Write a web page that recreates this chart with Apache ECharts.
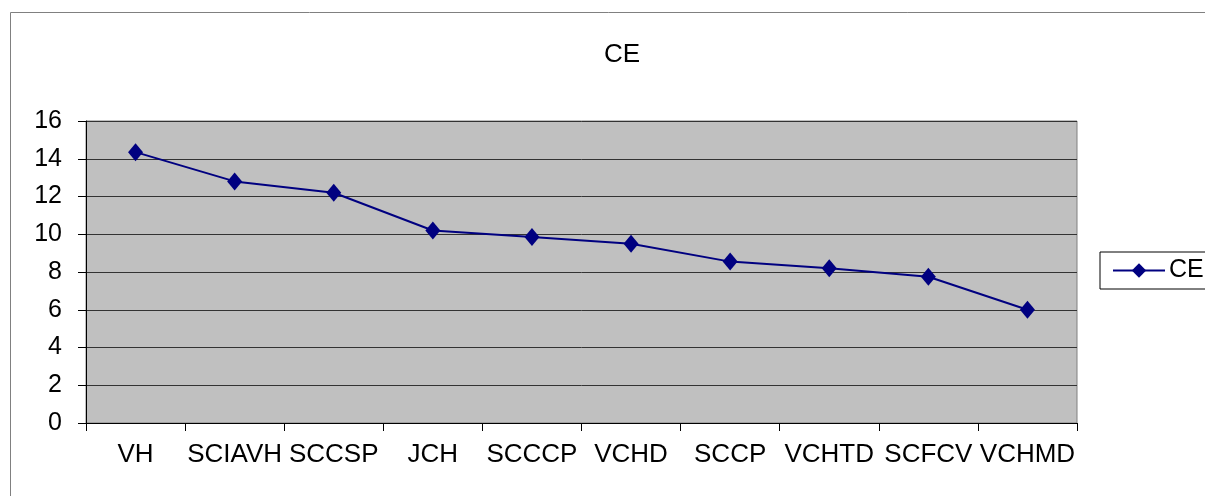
<!DOCTYPE html>
<html><head><meta charset="utf-8">
<script src="https://cdn.jsdelivr.net/npm/echarts@6/dist/echarts.min.js"></script>
<style>html,body{margin:0;padding:0;background:#fff}#c{width:1205px;height:496px}</style>
</head><body><div id="c"></div>
<script>
const categories = ['VH','SCIAVH','SCCSP','JCH','SCCCP','VCHD','SCCP','VCHTD','SCFCV','VCHMD'];
const ceValues = [14.35, 12.8, 12.2, 10.2, 9.85, 9.5, 8.55, 8.2, 7.75, 6.0];
const yTicks = [0,2,4,6,8,10,12,14,16];

const chart = echarts.init(document.getElementById('c'));
const font = 'Liberation Sans, Arial, sans-serif';
chart.setOption({
  animation: false,
  title: { text: 'CE', left: 617, top: 37, textAlign: 'center',
    textStyle: { fontFamily: font, fontSize: 26, fontWeight: 'normal', color: '#000' } },
  graphic: [{ type: 'rect', shape: { x: 10.5, y: 12.5, width: 1300, height: 600 },
    style: { fill: 'none', stroke: '#808080', lineWidth: 1 }, silent: true, z: -10 }],
  legend: { left: 1100, top: 252, orient: 'vertical', data: ['CE'],
    borderColor: '#000', borderWidth: 1, padding: [6, 40, 6, 12],
    itemWidth: 52, itemHeight: 18, itemGap: 0,
    textStyle: { fontFamily: font, fontSize: 25, color: '#000', padding: [0,0,0,-1] } },
  grid: { left: 86, top: 121, width: 991, height: 302, show: true,
    backgroundColor: '#C0C0C0', borderColor: '#808080', borderWidth: 1 },
  xAxis: { type: 'category', data: categories, boundaryGap: true,
    axisLine: { lineStyle: { color: '#000', width: 1 } },
    axisTick: { show: true, inside: false, length: 8, alignWithLabel: false, lineStyle: { color: '#000' } },
    axisLabel: { interval: 0, fontFamily: font, fontSize: 26, color: '#000', margin: 19 } },
  yAxis: { type: 'value', min: 0, max: 16, interval: 2,
    axisLine: { show: true, lineStyle: { color: '#000', width: 1 } },
    axisTick: { show: true, inside: false, length: 8, lineStyle: { color: '#000' } },
    splitLine: { show: true, lineStyle: { color: '#333', width: 1 } },
    axisLabel: { fontFamily: font, fontSize: 25, color: '#000', margin: 24,
      formatter: v => yTicks.includes(v) ? String(v) : '' } },
  series: [{ name: 'CE', type: 'line', data: ceValues,
    symbol: 'diamond', symbolSize: [15, 18],
    lineStyle: { color: '#000080', width: 2 },
    itemStyle: { color: '#000080' } }]
});
</script></body></html>
